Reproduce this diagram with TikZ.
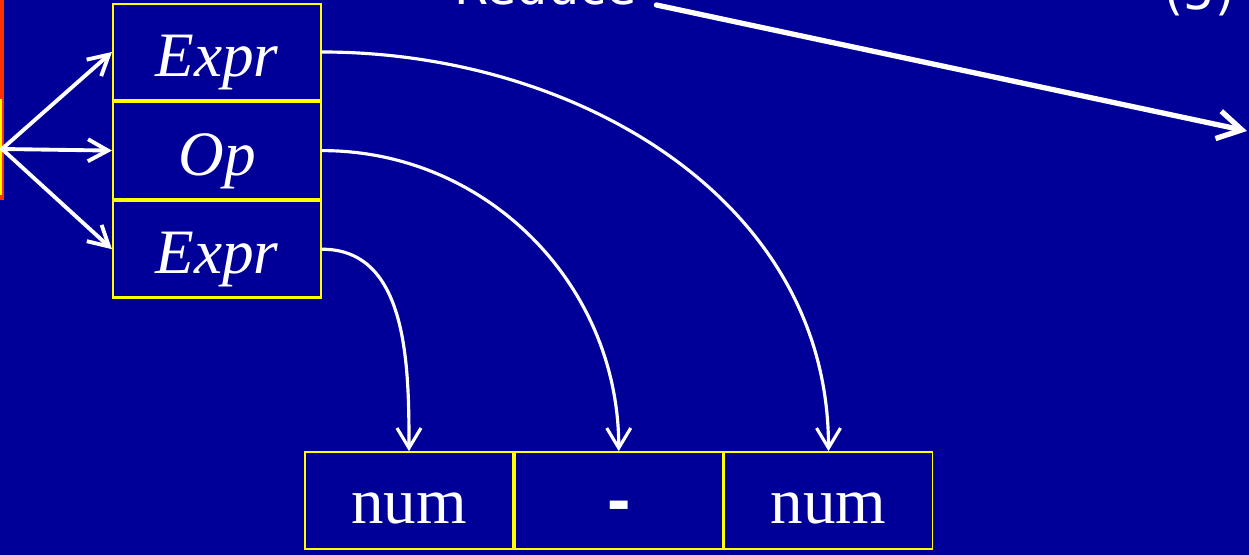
\documentclass[tikz,border=0pt]{standalone}
\usepackage{fontspec}
\setmainfont{Liberation Serif}[ItalicFont={Liberation Serif Italic}, BoldFont={Liberation Serif Bold}]
\newfontfamily\slidesans{DejaVu Sans}
\newfontfamily\slidearial{Liberation Sans Bold}
\usetikzlibrary{arrows.meta, positioning}
\definecolor{slideblue}{HTML}{000099}
\definecolor{cellyellow}{HTML}{FFFF00}
\definecolor{markred}{HTML}{FF3300}

\begin{document}
\begin{tikzpicture}[
    every node/.style={text=white},
    symcell/.style={rectangle, draw=cellyellow, line width=0.6pt, minimum width=2.08cm, minimum height=0.965cm, inner sep=0pt, text height=19pt, text depth=5pt, font=\fontsize{18}{22}\selectfont\itshape},
    tokcell/.style={rectangle, draw=cellyellow, line width=0.5pt, minimum width=2.08cm, minimum height=0.97cm, inner sep=0pt, text height=18pt, text depth=5pt, font=\fontsize{18.5}{23}\selectfont},
    fanarrow/.style={draw=white, line width=1.1pt, line cap=round, -{Straight Barb[length=2mm, width=2.2mm]}},
    bendarrow/.style={draw=white, line width=0.9pt, line cap=round, -{Straight Barb[length=2mm, width=2.4mm]}},
    reducearrow/.style={draw=white, line width=1.5pt, line cap=round, -{Straight Barb[length=2.4mm, width=2.8mm]}}
]

% background and frame
\useasboundingbox (0,0) rectangle (12.49,-5.55);
\fill[slideblue] (0,0) rectangle (12.49,-5.55);
\fill[markred] (0,0) rectangle (0.04,-2.0);
\fill[cellyellow] (0,-0.99) rectangle (0.02,-1.95);

% Reduce label
\node[anchor=base west, inner sep=0pt, font=\slidesans\fontsize{14}{17}\selectfont] (reduce) at (4.54,-0.05) {Reduce};
\node[anchor=base west, inner sep=0pt, font=\slidesans\fontsize{14}{17}\selectfont] (step) at (11.64,-0.10) {(5)};
\coordinate (reduceend) at (12.47,-1.31);
\draw[reducearrow] ([xshift=0.19cm]reduce.base east) -- (reduceend);

% Handle
\node[symcell] (e1) at (2.17,-0.52) {Expr};
\node[symcell, below=0pt of e1] (op) {Op};
\node[symcell, below=0pt of op] (e3) {Expr};

\coordinate (fan) at (0.02,-1.49);
\draw[fanarrow] (fan) -- (e1.west);
\draw[fanarrow] (fan) -- (op.west);
\draw[fanarrow] (fan) -- (e3.west);

% Input tokens
\node[tokcell] (num1) at (4.09,-5.005) {num};
\node[tokcell, right=0pt of num1, font=\slidearial\fontsize{20}{24}\selectfont] (minus) {-};
\node[tokcell, right=0pt of minus] (num2) {num};

\draw[bendarrow] (e1.east) to[out=0, in=90] (num2.north);
\draw[bendarrow] (op.east) to[out=0, in=90] (minus.north);
\draw[bendarrow] (e3.east) to[out=0, in=90] (num1.north);

\end{tikzpicture}
\end{document}
